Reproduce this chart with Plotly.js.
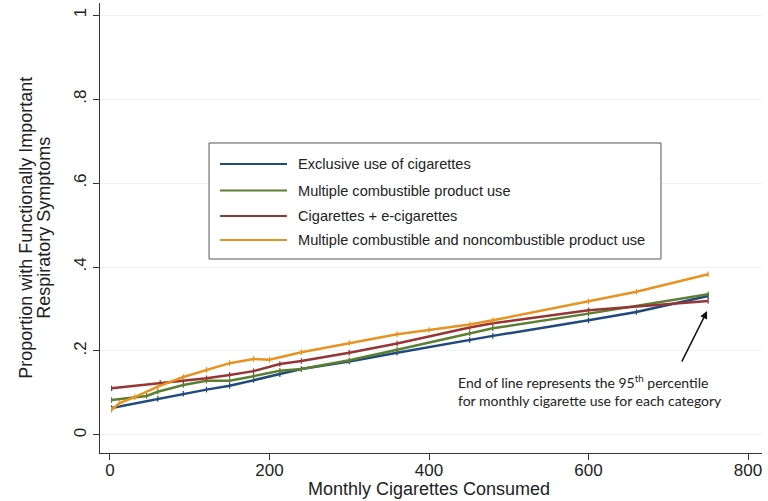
<!DOCTYPE html>
<html>
<head>
<meta charset="utf-8">
<script src="https://cdn.plot.ly/plotly-3.0.1.min.js"></script>
<style>html,body{margin:0;padding:0;background:#fff;}#chart{width:768px;height:501px;}</style>
</head>
<body>
<div id="chart"></div>
<script>
// Series names
var seriesNames = [
  "Exclusive use of cigarettes",
  "Multiple combustible product use",
  "Cigarettes + e-cigarettes",
  "Multiple combustible and noncombustible product use"
];
// Exclusive use of cigarettes
var xBlue = [2, 60, 92, 121, 150, 180, 213, 240, 300, 360, 451, 480, 600, 660, 750];
var yBlue = [0.064, 0.086, 0.098, 0.108, 0.117, 0.131, 0.145, 0.157, 0.175, 0.196, 0.226, 0.236, 0.273, 0.293, 0.331];
// Multiple combustible product use
var xGreen = [2, 46, 60, 92, 121, 150, 180, 213, 240, 300, 360, 451, 480, 600, 750];
var yGreen = [0.083, 0.093, 0.103, 0.119, 0.129, 0.129, 0.140, 0.153, 0.157, 0.178, 0.203, 0.242, 0.254, 0.289, 0.335];
// Cigarettes + e-cigarettes
var xRed = [2, 63, 92, 121, 150, 180, 213, 240, 300, 360, 451, 480, 600, 750];
var yRed = [0.111, 0.124, 0.129, 0.135, 0.143, 0.152, 0.169, 0.176, 0.196, 0.218, 0.256, 0.266, 0.297, 0.319];
// Multiple combustible and noncombustible product use
var xOrange = [2, 12, 31, 60, 92, 121, 150, 180, 200, 240, 300, 360, 400, 451, 480, 600, 660, 750];
var yOrange = [0.060, 0.076, 0.090, 0.115, 0.138, 0.155, 0.171, 0.181, 0.179, 0.197, 0.219, 0.240, 0.250, 0.263, 0.273, 0.318, 0.341, 0.383];
// Tick labels
var xTickVals = [0, 200, 400, 600, 800];
var xTickText = ["0", "200", "400", "600", "800"];
var yTickVals = [0, 0.2, 0.4, 0.6, 0.8, 1];
var yTickText = ["0", ".2", ".4", ".6", ".8", "1"];
var xTitle = "Monthly Cigarettes Consumed";
var yTitleLines = ["Proportion with Functionally Important", "Respiratory Symptoms"];
var noteText = "End of line represents the 95<sup>th</sup> percentile<br>for monthly cigarette use for each category";

var colors = ["#1f4a7c", "#5b7f31", "#963634", "#e8931f"];
var xs = [xBlue, xGreen, xRed, xOrange];
var ys = [yBlue, yGreen, yRed, yOrange];

var traces = xs.map(function (x, i) {
  return {
    x: x, y: ys[i], type: "scatter", mode: "lines+markers",
    name: seriesNames[i], showlegend: false,
    line: {color: colors[i], width: 2.5},
    marker: {symbol: "line-ns", size: 4, color: colors[i], line: {color: colors[i], width: 1.2}}
  };
});

var FONT = "Liberation Sans, Arial, sans-serif";

// Legend drawn as a box in paper coordinates
var shapes = [{
  type: "rect", xref: "paper", yref: "paper",
  x0: 0.1647, x1: 0.8474, y0: 0.4311, y1: 0.6889,
  line: {color: "#555", width: 1}, fillcolor: "#fff", layer: "above"
}];
var legendRows = [0.6422, 0.5833, 0.5267, 0.4733];
var annotations = [];
seriesNames.forEach(function (nm, i) {
  shapes.push({
    type: "line", xref: "paper", yref: "paper",
    x0: 0.1813, x1: 0.2825, y0: legendRows[i], y1: legendRows[i],
    line: {color: colors[i], width: 2}, layer: "above"
  });
  annotations.push({
    xref: "paper", yref: "paper", x: 0.2960, y: legendRows[i],
    xanchor: "left", yanchor: "middle", showarrow: false, text: nm,
    font: {family: FONT, size: 14.6, color: "#222"}
  });
});
// axis titles
annotations.push({
  xref: "paper", yref: "paper", x: -0.112, y: 0.5, xanchor: "center", yanchor: "middle",
  textangle: -90, showarrow: false, text: yTitleLines[0],
  font: {family: FONT, size: 18, color: "#222"}
});
annotations.push({
  xref: "paper", yref: "paper", x: -0.085, y: 0.5, xanchor: "center", yanchor: "middle",
  textangle: -90, showarrow: false, text: yTitleLines[1],
  font: {family: FONT, size: 18, color: "#222"}
});
annotations.push({
  xref: "paper", yref: "paper", x: 0.4977, y: -0.0811, xanchor: "center", yanchor: "middle",
  showarrow: false, text: xTitle,
  font: {family: FONT, size: 18, color: "#222"}
});
// arrow
annotations.push({
  x: 748.6, y: 0.295, xref: "x", yref: "y", ax: 716, ay: 0.171, axref: "x", ayref: "y",
  showarrow: true, arrowhead: 2, arrowsize: 1, arrowwidth: 1.5, arrowcolor: "#111", text: ""
});
// note
annotations.push({
  x: 0.9426, y: 0.1389, xref: "paper", yref: "paper", xanchor: "right", yanchor: "middle", align: "left",
  showarrow: false, text: noteText,
  font: {family: "Lato, Open Sans, sans-serif", size: 14, color: "#222"}
});

var layout = {
  width: 768, height: 501,
  margin: {l: 100, r: 6, t: 3, b: 48},
  paper_bgcolor: "#fff", plot_bgcolor: "#fff",
  font: {family: FONT, color: "#222", size: 17},
  showlegend: false,
  xaxis: {
    range: [-12.5, 817.5], tickvals: xTickVals, ticktext: xTickText,
    showline: true, linecolor: "#333", linewidth: 1.2,
    ticks: "outside", ticklen: 6, tickcolor: "#333",
    showgrid: false, zeroline: false,
    tickfont: {size: 17}, ticklabelstandoff: -5
  },
  yaxis: {
    range: [-0.043, 1.029], tickvals: yTickVals, ticktext: yTickText,
    tickangle: -90,
    showline: true, linecolor: "#333", linewidth: 1.2,
    ticks: "outside", ticklen: 6, tickcolor: "#333",
    showgrid: true, gridcolor: "#edf2f4", gridwidth: 1, zeroline: false,
    tickfont: {size: 17}
  },
  shapes: shapes,
  annotations: annotations
};

Plotly.newPlot("chart", traces, layout, {displayModeBar: false, staticPlot: true});
</script>
</body>
</html>
